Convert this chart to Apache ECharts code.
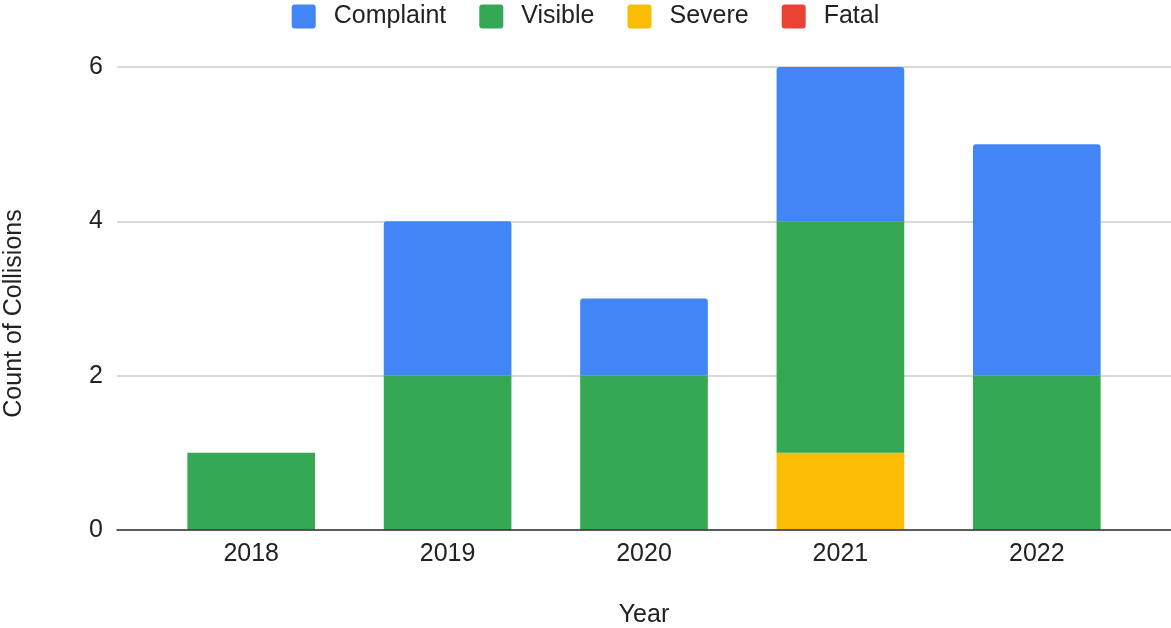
<!DOCTYPE html>
<html>
<head>
<meta charset="utf-8">
<script src="https://cdn.jsdelivr.net/npm/echarts@6/dist/echarts.min.js"></script>
<style>
html,body{margin:0;padding:0;background:#fff;}
#c{width:1171px;height:628px;}
</style>
</head>
<body>
<div id="c"></div>
<script>
const years = ['2018', '2019', '2020', '2021', '2022'];
const complaint = [0, 2, 1, 2, 3];
const visible = [1, 2, 2, 3, 2];
const severe = [0, 0, 0, 1, 0];
const fatal = [0, 0, 0, 0, 0];
const yTicks = [0, 2, 4, 6];

const FONT = 'Liberation Sans, Arial, sans-serif';
const chart = echarts.init(document.getElementById('c'));
chart.setOption({
  animation: false,
  textStyle: { fontFamily: FONT },
  legend: {
    top: -1,
    left: 'center',
    itemWidth: 24,
    itemHeight: 24,
    itemGap: 33,
    icon: 'path://M3,0 H21 A3,3 0 0 1 24,3 V21 A3,3 0 0 1 21,24 H3 A3,3 0 0 1 0,21 V3 A3,3 0 0 1 3,0 Z',
    data: ['Complaint', 'Visible', 'Severe', 'Fatal'],
    textStyle: { fontSize: 25, color: '#222', fontFamily: FONT, padding: [0, 0, 0, 13] }
  },
  grid: [
    { left: 117, right: 0, top: 67, bottom: 98, outerBoundsMode: 'none', containLabel: false },
    { left: 153, right: 36, top: 67, bottom: 98, outerBoundsMode: 'none', containLabel: false }
  ],
  xAxis: [
    {
      gridIndex: 0, type: 'value', min: 0, max: 1, z: 10,
      axisLine: { show: true, lineStyle: { color: '#333', width: 1.5 } },
      axisTick: { show: false }, axisLabel: { show: false }, splitLine: { show: false }
    },
    {
      gridIndex: 1, type: 'category', data: years,
      axisLine: { show: false }, axisTick: { show: false },
      axisLabel: { fontSize: 25, color: '#222', margin: 12, fontFamily: FONT },
      name: 'Year', nameLocation: 'middle', nameGap: 73,
      nameTextStyle: { fontSize: 25, color: '#222', fontFamily: FONT }
    }
  ],
  yAxis: [
    {
      gridIndex: 0, type: 'value', min: yTicks[0], max: yTicks[yTicks.length - 1], interval: 2,
      axisLine: { show: false }, axisTick: { show: false },
      axisLabel: { fontSize: 25, color: '#222', margin: 14, fontFamily: FONT },
      splitLine: { lineStyle: { color: '#cccccc', width: 1.5 } },
      name: 'Count of Collisions', nameLocation: 'middle', nameGap: 90,
      nameTextStyle: { fontSize: 25, color: '#222', fontFamily: FONT, padding: [0, 30, 0, 0] }
    },
    {
      gridIndex: 1, type: 'value', min: 0, max: 6, show: false
    }
  ],
  series: [
    { name: 'Severe', type: 'bar', stack: 's', xAxisIndex: 1, yAxisIndex: 1, barWidth: '65%', data: severe, itemStyle: { color: '#FBBC04' } },
    { name: 'Visible', type: 'bar', stack: 's', xAxisIndex: 1, yAxisIndex: 1, barWidth: '65%', data: visible, itemStyle: { color: '#34A853' } },
    { name: 'Complaint', type: 'bar', stack: 's', xAxisIndex: 1, yAxisIndex: 1, barWidth: '65%', data: complaint, itemStyle: { color: '#4285F4', borderRadius: [3, 3, 0, 0] } },
    { name: 'Fatal', type: 'bar', stack: 's', xAxisIndex: 1, yAxisIndex: 1, barWidth: '65%', data: fatal, itemStyle: { color: '#EA4335' } }
  ]
});
</script>
</body>
</html>
